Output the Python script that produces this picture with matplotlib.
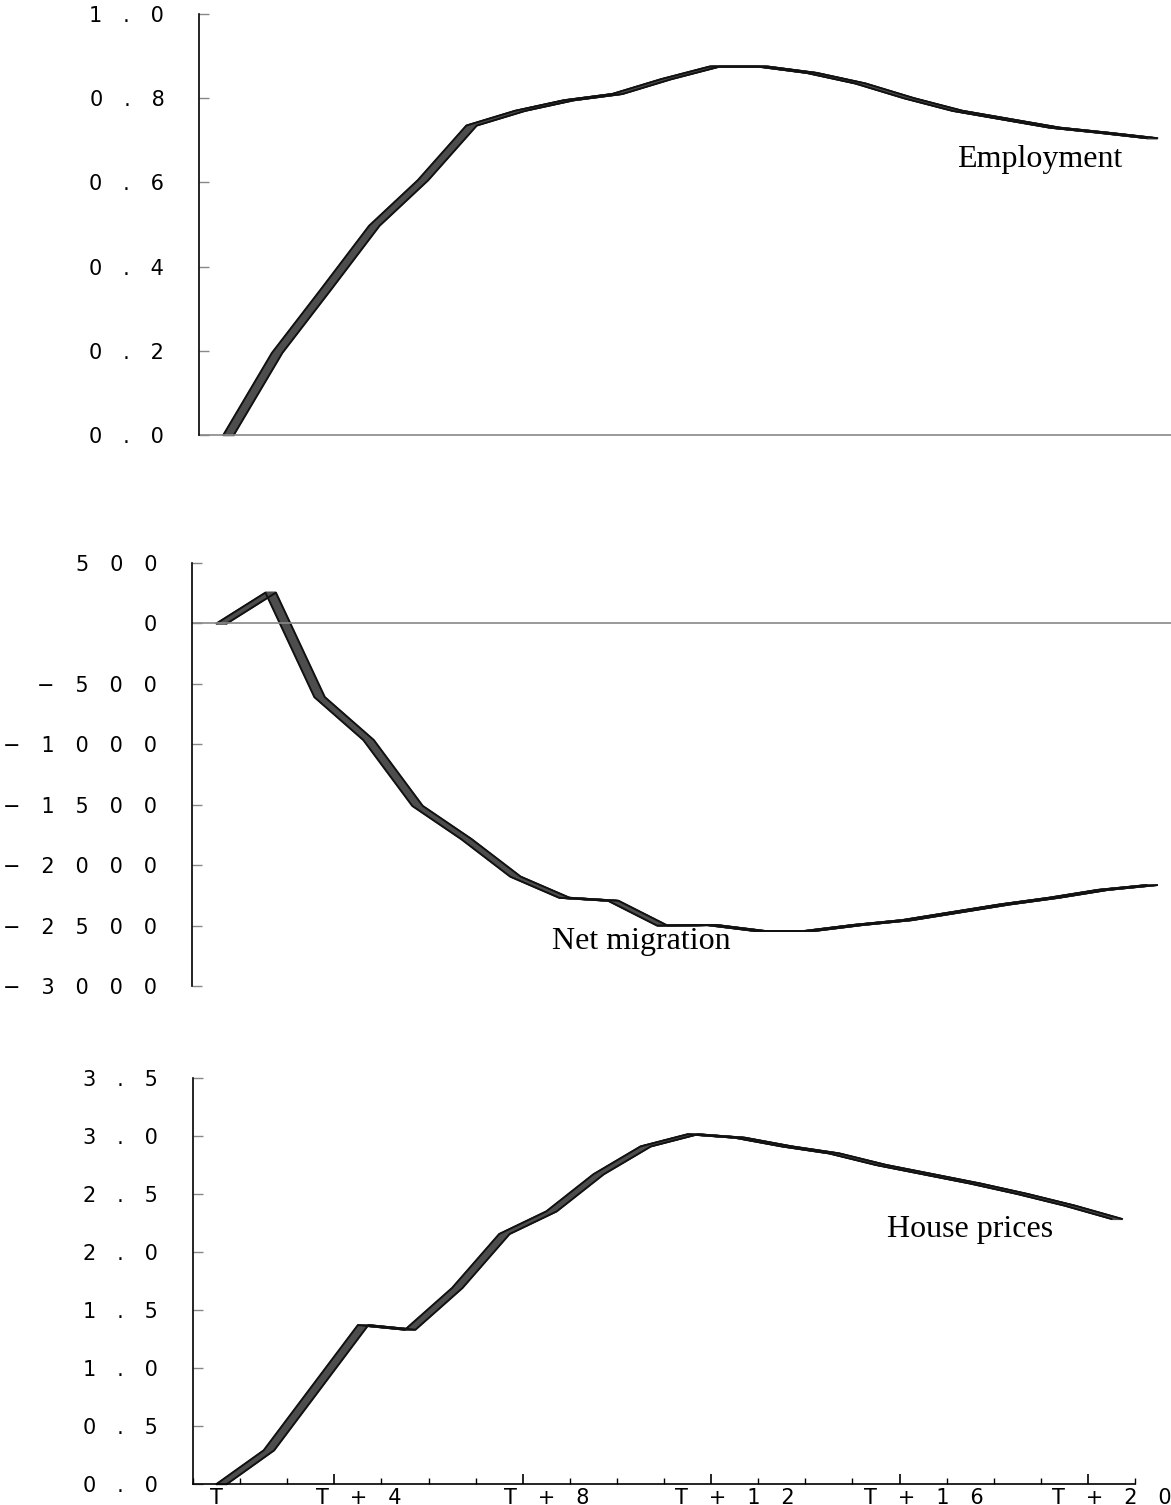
import matplotlib
matplotlib.use("Agg")
from matplotlib import pyplot as plt
from matplotlib import transforms
import numpy as np

# periods T .. T+19
periods = np.arange(20)

employment = [0.0, 0.195, 0.345, 0.497, 0.605, 0.735, 0.77, 0.795, 0.81, 0.845,
              0.875, 0.875, 0.86, 0.835, 0.80, 0.77, 0.75, 0.73, 0.718, 0.705]

net_migration = [0, 255, -610, -965, -1510, -1785, -2095, -2270, -2295, -2500,
                 -2495, -2545, -2545, -2495, -2455, -2390, -2325, -2270, -2205, -2165]

house_prices = [0.0, 0.29, 0.83, 1.37, 1.33, 1.69, 2.155, 2.35, 2.67, 2.91,
                3.015, 2.985, 2.91, 2.85, 2.75, 2.67, 2.59, 2.50, 2.40, 2.285]

emp_ticks = [0.0, 0.2, 0.4, 0.6, 0.8, 1.0]
mig_ticks = [500, 0, -500, -1000, -1500, -2000, -2500, -3000]
hp_ticks = [0.0, 0.5, 1.0, 1.5, 2.0, 2.5, 3.0, 3.5]
x_major = [2.5, 6.5, 10.5, 14.5, 18.5]
x_labels = ["T+4", "T+8", "T+12", "T+16", "T+20"]

W, H = 1171, 1505
fig = plt.figure(figsize=(W / 100, H / 100), dpi=100)
TICK_FS = 15
NOTE_FS = 23


def spaced(s):
    # wide letter spacing like the original plotter font
    s = s.replace("-", "\u2212")
    return "\u2003".join(s)


def box(l, r, t, b):
    return [l / W, 1 - b / H, (r - l) / W, (b - t) / H]


def draw_line(ax, y):
    # pen-like band: same series drawn with small horizontal offsets
    for dx in np.arange(0.5, 10.5, 0.5):
        tr = transforms.offset_copy(ax.transData, fig=fig, x=dx, y=0, units="dots")
        ax.plot(periods, y, color="#4d4d4d", lw=1.4, transform=tr, clip_on=False)
    for dx in (0, 10.5):
        tr = transforms.offset_copy(ax.transData, fig=fig, x=dx, y=0, units="dots")
        ax.plot(periods, y, color="#111111", lw=1.4, transform=tr, clip_on=False)


def style_left(ax, ticks, fmt):
    for s in ("top", "right", "bottom"):
        ax.spines[s].set_visible(False)
    ax.spines["left"].set_linewidth(1.2)
    ax.set_yticks(ticks)
    ax.set_yticklabels([spaced(fmt(t)) for t in ticks], fontsize=TICK_FS,
                       family="DejaVu Sans")
    ax.tick_params(axis="y", direction="in", length=7, width=1, color="#888888",
                   pad=25)
    ax.set_xlim(-0.5, 19.5)


# Employment
ax1 = fig.add_axes(box(199, 1171, 14, 435))
draw_line(ax1, employment)
ax1.set_ylim(0, 1.0)
style_left(ax1, emp_ticks, lambda t: f"{t:.1f}")
ax1.axhline(0, color="#888888", lw=1.2, clip_on=False)
ax1.set_xticks([])
ax1.text(1040 / W, 1 - 160 / H, "Employment", transform=fig.transFigure,
         family="Liberation Serif", fontsize=NOTE_FS, ha="center", va="center")

# Net migration
ax2 = fig.add_axes(box(192, 1171, 563, 986))
draw_line(ax2, net_migration)
ax2.set_ylim(-3000, 500)
style_left(ax2, mig_ticks, lambda t: f"{t:d}")
ax2.axhline(0, color="#888888", lw=1.2)
ax2.set_xticks([])
ax2.text(641 / W, 1 - 942 / H, "Net migration", transform=fig.transFigure,
         family="Liberation Serif", fontsize=NOTE_FS, ha="center", va="center")

# House prices
ax3 = fig.add_axes(box(193, 1135, 1078, 1484))
draw_line(ax3, house_prices)
ax3.set_ylim(0, 3.5)
style_left(ax3, hp_ticks, lambda t: f"{t:.1f}")
ax3.spines["bottom"].set_visible(True)
ax3.spines["bottom"].set_linewidth(1.2)
ax3.set_xticks(x_major)
ax3.set_xticklabels([])
ax3.set_xticks(np.arange(-0.5, 20, 1), minor=True)
ax3.tick_params(axis="x", which="major", direction="in", length=7, width=1.2)
ax3.tick_params(axis="x", which="minor", direction="in", length=4, width=1)

# period labels sit a little to the right of their tick marks
lab_tr = transforms.offset_copy(ax3.get_xaxis_transform(), fig=fig, x=24, y=-4,
                                units="dots")
for xm, lab in zip(x_major, x_labels):
    ax3.text(xm, 0, spaced(lab), transform=lab_tr, fontsize=TICK_FS,
             family="DejaVu Sans", ha="center", va="top")
t_tr = transforms.offset_copy(ax3.get_xaxis_transform(), fig=fig, x=0, y=-4,
                              units="dots")
ax3.text(0, 0, "T", transform=t_tr, fontsize=TICK_FS,
         family="DejaVu Sans", ha="center", va="top")
ax3.text(970 / W, 1 - 1230 / H, "House prices", transform=fig.transFigure,
         family="Liberation Serif", fontsize=NOTE_FS, ha="center", va="center")

fig.savefig("out.png", dpi=100)
